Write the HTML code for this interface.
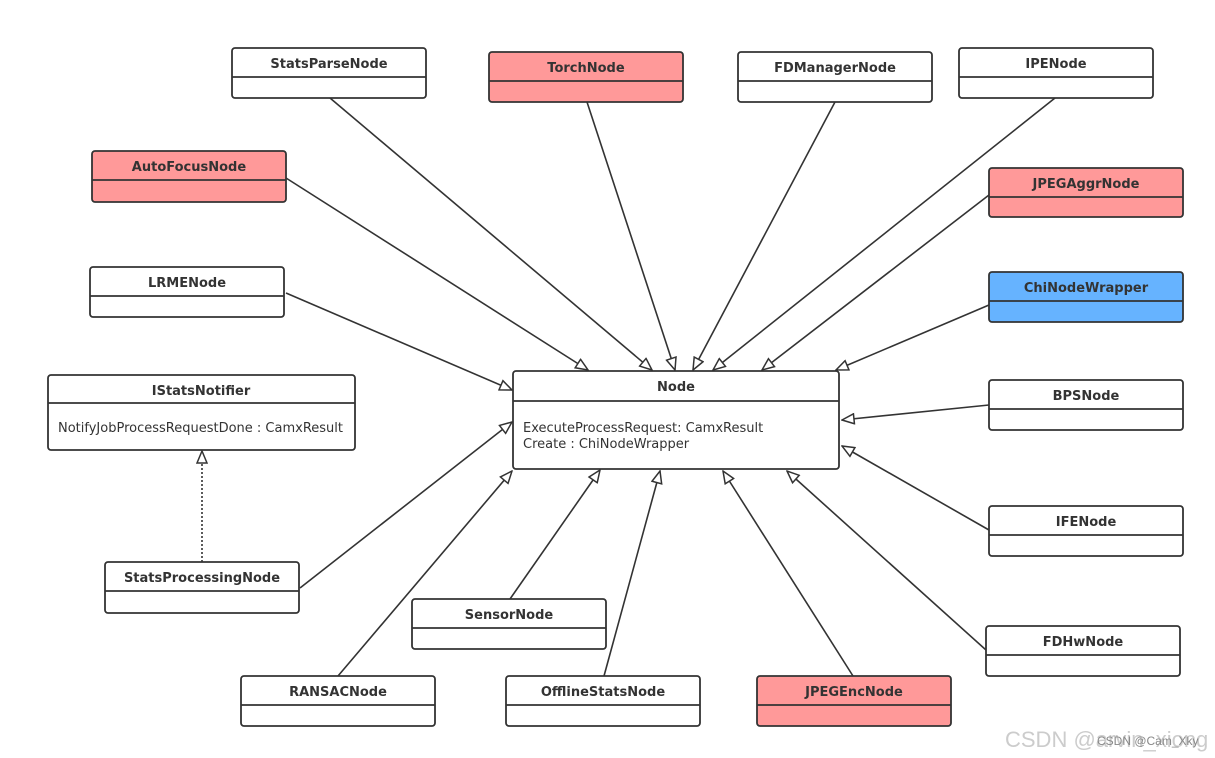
<!DOCTYPE html>
<html><head><meta charset="utf-8"><style>
html,body{margin:0;padding:0;background:#fff;}
svg{display:block;}
text{font-family:"DejaVu Sans","Liberation Sans",sans-serif;fill:#333;}
.t{font-weight:bold;font-size:13px;text-anchor:middle;}
.m{font-size:13px;}
</style></head><body>
<svg width="1215" height="758" viewBox="0 0 1215 758" xmlns="http://www.w3.org/2000/svg">
<defs>
<marker id="a" viewBox="0 0 14 12" refX="13" refY="6" markerWidth="14" markerHeight="12" markerUnits="userSpaceOnUse" orient="auto">
<path d="M1,1 L13,6 L1,11 Z" fill="#fff" stroke="#333" stroke-width="1.5"/>
</marker>
</defs>
<g stroke="#333" stroke-width="1.6" fill="none" marker-end="url(#a)">
<line x1="330" y1="98" x2="652" y2="370"/>
<line x1="587" y1="102" x2="675" y2="370"/>
<line x1="835" y1="102" x2="693" y2="370"/>
<line x1="1055" y1="98" x2="713" y2="370"/>
<line x1="286" y1="178" x2="588" y2="370"/>
<line x1="989" y1="195" x2="762" y2="370"/>
<line x1="286" y1="293" x2="512" y2="390"/>
<line x1="989" y1="305" x2="836" y2="370"/>
<line x1="989" y1="405" x2="842" y2="420"/>
<line x1="989" y1="530" x2="842" y2="446"/>
<line x1="300" y1="588" x2="512" y2="422"/>
<line x1="510" y1="599" x2="600" y2="470"/>
<line x1="986" y1="650" x2="787" y2="471"/>
<line x1="338" y1="676" x2="512" y2="471"/>
<line x1="604" y1="676" x2="660" y2="471"/>
<line x1="853" y1="676" x2="723" y2="471"/>
<line x1="202" y1="562" x2="202" y2="451" stroke-dasharray="2,2"/>
</g>
<g stroke="#333" stroke-width="1.8">
<rect x="232" y="48" width="194" height="50" rx="3" fill="#fff"/><line x1="232" y1="77" x2="426" y2="77"/>
<rect x="489" y="52" width="194" height="50" rx="3" fill="#ff9999"/><line x1="489" y1="81" x2="683" y2="81"/>
<rect x="738" y="52" width="194" height="50" rx="3" fill="#fff"/><line x1="738" y1="81" x2="932" y2="81"/>
<rect x="959" y="48" width="194" height="50" rx="3" fill="#fff"/><line x1="959" y1="77" x2="1153" y2="77"/>
<rect x="92" y="151" width="194" height="51" rx="3" fill="#ff9999"/><line x1="92" y1="180" x2="286" y2="180"/>
<rect x="989" y="168" width="194" height="49" rx="3" fill="#ff9999"/><line x1="989" y1="197" x2="1183" y2="197"/>
<rect x="90" y="267" width="194" height="50" rx="3" fill="#fff"/><line x1="90" y1="296" x2="284" y2="296"/>
<rect x="989" y="272" width="194" height="50" rx="3" fill="#66b3ff"/><line x1="989" y1="301" x2="1183" y2="301"/>
<rect x="48" y="375" width="307" height="75" rx="3" fill="#fff"/><line x1="48" y1="403" x2="355" y2="403"/>
<rect x="513" y="371" width="326" height="98" rx="3" fill="#fff"/><line x1="513" y1="401" x2="839" y2="401"/>
<rect x="989" y="380" width="194" height="50" rx="3" fill="#fff"/><line x1="989" y1="409" x2="1183" y2="409"/>
<rect x="989" y="506" width="194" height="50" rx="3" fill="#fff"/><line x1="989" y1="535" x2="1183" y2="535"/>
<rect x="105" y="562" width="194" height="51" rx="3" fill="#fff"/><line x1="105" y1="591" x2="299" y2="591"/>
<rect x="412" y="599" width="194" height="50" rx="3" fill="#fff"/><line x1="412" y1="628" x2="606" y2="628"/>
<rect x="986" y="626" width="194" height="50" rx="3" fill="#fff"/><line x1="986" y1="655" x2="1180" y2="655"/>
<rect x="241" y="676" width="194" height="50" rx="3" fill="#fff"/><line x1="241" y1="705" x2="435" y2="705"/>
<rect x="506" y="676" width="194" height="50" rx="3" fill="#fff"/><line x1="506" y1="705" x2="700" y2="705"/>
<rect x="757" y="676" width="194" height="50" rx="3" fill="#ff9999"/><line x1="757" y1="705" x2="951" y2="705"/>
</g>
<text class="t" x="329" y="68">StatsParseNode</text>
<text class="t" x="586" y="72">TorchNode</text>
<text class="t" x="835" y="72">FDManagerNode</text>
<text class="t" x="1056" y="68">IPENode</text>
<text class="t" x="189" y="171">AutoFocusNode</text>
<text class="t" x="1086" y="188">JPEGAggrNode</text>
<text class="t" x="187" y="287">LRMENode</text>
<text class="t" x="1086" y="292">ChiNodeWrapper</text>
<text class="t" x="201" y="395">IStatsNotifier</text>
<text class="m" x="58" y="432">NotifyJobProcessRequestDone : CamxResult</text>
<text class="t" x="676" y="391">Node</text>
<text class="m" x="523" y="432">ExecuteProcessRequest: CamxResult</text>
<text class="m" x="523" y="448">Create : ChiNodeWrapper</text>
<text class="t" x="1086" y="400">BPSNode</text>
<text class="t" x="1086" y="526">IFENode</text>
<text class="t" x="202" y="582">StatsProcessingNode</text>
<text class="t" x="509" y="619">SensorNode</text>
<text class="t" x="1083" y="646">FDHwNode</text>
<text class="t" x="338" y="696">RANSACNode</text>
<text class="t" x="603" y="696">OfflineStatsNode</text>
<text class="t" x="854" y="696">JPEGEncNode</text>
<text x="1005" y="747" style="font-size:22px;fill:#ccc;font-family:'Liberation Sans',sans-serif">CSDN @arvin_xiong</text>
<text x="1097" y="745" style="font-size:12px;fill:#888;font-family:'Liberation Sans',sans-serif">CSDN @Cam_Xky</text>
</svg>
</body></html>
